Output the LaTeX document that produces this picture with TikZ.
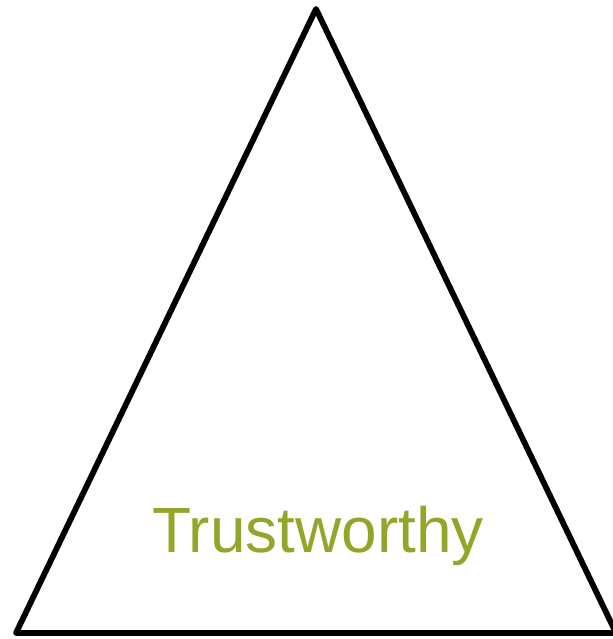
\documentclass[tikz,border=0pt]{standalone}
\usepackage{fontspec}
\setmainfont{Liberation Sans}
\definecolor{trustgreen}{RGB}{146,166,43}
\begin{document}
\begin{tikzpicture}[x=1cm,y=1cm,
	side/.style={line width=1.65pt,line join=round},
	tlabel/.style={text=trustgreen,font=\fontsize{18.2}{22}\selectfont,anchor=base,inner sep=0pt}]
	\useasboundingbox (0,0) rectangle (6.12,6.39);
%	corners of the triangle
	\coordinate (apex) at (3.16,6.30);
	\coordinate (left) at (0.16,0.06);
	\coordinate (right) at (6.16,0.06);
	\draw[side] (apex) -- (left) -- (right) -- cycle;
	\node[tlabel] (trust) at (3.18,0.86) {Trustworthy};
\end{tikzpicture}
\end{document}
